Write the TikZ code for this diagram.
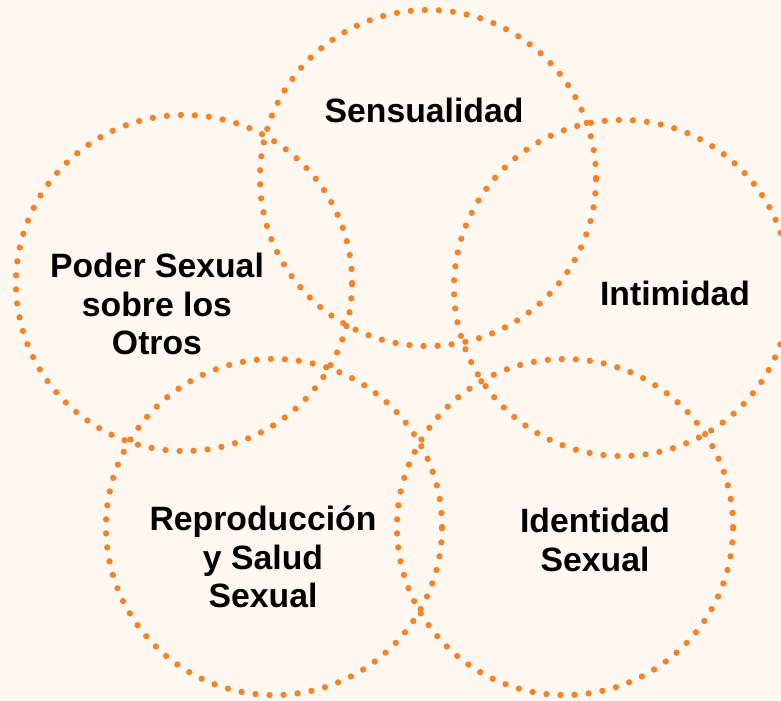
\documentclass[tikz,border=0pt]{standalone}
\usepackage{fontspec}
\setmainfont{Liberation Sans}
\usepackage{xcolor}
\usepackage{tikz}
\usetikzlibrary{shapes,positioning,calc}
\definecolor{dotorange}{HTML}{F5832A}
\definecolor{cream}{HTML}{FEF8F1}

\begin{document}
\begin{tikzpicture}[x=0.025cm,y=-0.025cm,
		ring/.style={draw=dotorange,
			circle,
			minimum size=8.4cm,
			inner sep=0pt,
			line width=4.5pt,
			line cap=round,
			dash pattern=on 0pt off 10pt},
		lbl/.style={font=\fontsize{24}{27.5}\selectfont\bfseries,
			align=center,
			text=black}]
		\fill[cream] (0,0) rectangle (781,700);
		\useasboundingbox (0,0) rectangle (781,700);

		% the five circles
		\node[ring] (sens) at (428,178) {};
		\node[ring] (poder) at (184,283) {};
		\node[ring] (intim) at (622,288) {};
		\node[ring] (repro) at (274,527) {};
		\node[ring] (ident) at (565,527) {};

		% labels
		\node[lbl] (sensT) at (424,110) {Sensualidad};
		\node[lbl] (poderT) at (157,304) {Poder Sexual\\sobre los\\Otros};
		\node[lbl] (intimT) at (675,293) {Intimidad};
		\node[lbl] (reproT) at (263,557) {Reproducción\\y Salud\\Sexual};
		\node[lbl] (identT) at (595,540) {Identidad\\Sexual};

	\end{tikzpicture}
\end{document}
